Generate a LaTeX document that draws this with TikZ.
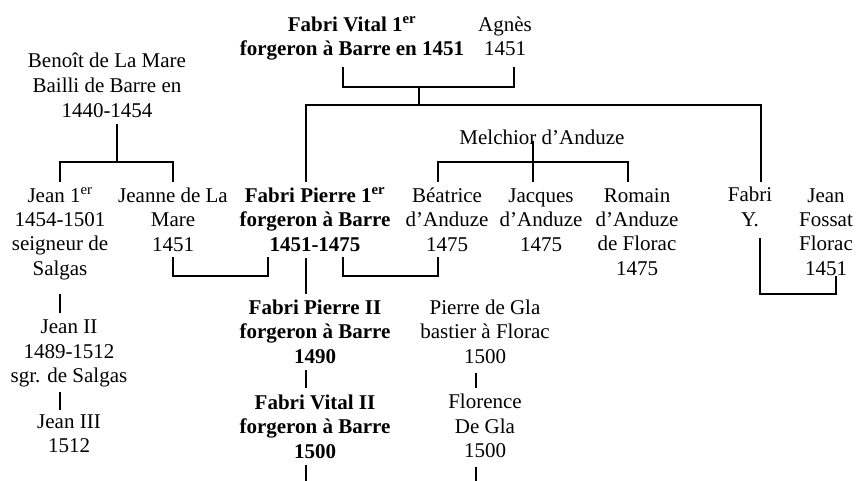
\documentclass[tikz,border=0pt]{standalone}
\usepackage{fontspec}
\setmainfont{Liberation Serif}
\begin{document}
\begin{tikzpicture}[x=1pt,y=-1pt,
  person/.style={font=\fontsize{21}{24.3}\selectfont, inner sep=0pt, align=center, anchor=base},
  boldperson/.style={person, font=\fontsize{21}{24.3}\selectfont\bfseries},
  link/.style={line width=1.5pt, line join=miter}]
\useasboundingbox (0,0) rectangle (856,481);
% nodes (placed at the baseline of their last line)
\node[boldperson] (fv) at (352,55.5) {Fabri Vital 1\textsuperscript{er}\\forgeron à Barre en 1451};
\node[person] (ag) at (505,56) {Agnès\\1451};
\node[person, font=\fontsize{21}{25}\selectfont] (ben) at (107,118) {Benoît de La Mare\\Bailli de Barre en\\1440-1454};
\node[person] (mel) at (542,145) {Melchior d’Anduze};
\node[person] (j1) at (60,275) {Jean 1\textsuperscript{er}\\1454-1501\\seigneur de\\Salgas};
\node[person] (jm) at (173,251) {Jeanne de La\\Mare\\1451};
\node[boldperson] (fp) at (315,251) {Fabri Pierre 1\textsuperscript{er}\\forgeron à Barre\\1451-1475};
\node[person] (bea) at (447,251) {Béatrice\\d’Anduze\\1475};
\node[person] (jac) at (541,251) {Jacques\\d’Anduze\\1475};
\node[person] (rom) at (637,275) {Romain\\d’Anduze\\de Florac\\1475};
\node[person] (fy) at (750,226) {Fabri\\Y.};
\node[person] (jf) at (826,275) {Jean\\Fossat\\Florac\\1451};
\node[person] (j2) at (69,382.5) {Jean II\\1489-1512\\sgr. de Salgas};
\node[person] (j3) at (69,452.5) {Jean III\\1512};
\node[boldperson] (fp2) at (315,363) {Fabri Pierre II\\forgeron à Barre\\1490};
\node[boldperson] (fv2) at (315,458) {Fabri Vital II\\forgeron à Barre\\1500};
\node[person] (pg) at (485,363) {Pierre de Gla\\bastier à Florac\\1500};
\node[person] (fl) at (485,457.5) {Florence\\De Gla\\1500};
% connector points
\coordinate (fvB) at (343,67);
\coordinate (agB) at (514,67);
\coordinate (cpl1) at (419,87);
\coordinate (sib1) at (419,105);
\coordinate (fpT) at (306,182);
\coordinate (fyT) at (761,182);
\coordinate (benB) at (117,124);
\coordinate (sib2) at (117,162);
\coordinate (j1T) at (60,182);
\coordinate (jmT) at (173,182);
\coordinate (melB) at (533,141);
\coordinate (jacT) at (533,182);
\coordinate (sib3) at (533,162);
\coordinate (beaT) at (438,182);
\coordinate (romT) at (628,182);
\coordinate (jmB) at (173,257);
\coordinate (fpBl) at (268,257);
\coordinate (fpBr) at (343,257);
\coordinate (beaB) at (438,257);
\coordinate (fpB) at (306,258);
\coordinate (fp2T) at (306,294);
\coordinate (fyB) at (760,238);
\coordinate (jfB) at (836,276);
\coordinate (cpl5) at (760,294);
\coordinate (j1B) at (60,294);
\coordinate (j2T) at (60,313);
\coordinate (j2B) at (60,392);
\coordinate (j3T) at (60,410);
\coordinate (fp2B) at (306,370);
\coordinate (fv2T) at (306,388);
\coordinate (fv2B) at (306,465);
\coordinate (fv2E) at (306,481);
\coordinate (pgB) at (476,373);
\coordinate (flT) at (476,388);
\coordinate (flB) at (476,467);
\coordinate (flE) at (476,481);
% connectors
\draw[link] (fvB) |- (cpl1) -| (agB);
\draw[link] (cpl1) -- (sib1);
\draw[link] (fpT) |- (sib1) -| (fyT);
\draw[link] (benB) -- (sib2);
\draw[link] (j1T) |- (sib2) -| (jmT);
\draw[link] (melB) -- (jacT);
\draw[link] (beaT) |- (sib3) -| (romT);
\draw[link] (jmB) -- ++(0,19) -| (fpBl);
\draw[link] (fpBr) -- ++(0,19) -| (beaB);
\draw[link] (fpB) -- (fp2T);
\draw[link] (fyB) |- (cpl5) -| (jfB);
\draw[link] (j1B) -- (j2T);
\draw[link] (j2B) -- (j3T);
\draw[link] (fp2B) -- (fv2T);
\draw[link] (fv2B) -- (fv2E);
\draw[link] (pgB) -- (flT);
\draw[link] (flB) -- (flE);
\end{tikzpicture}
\end{document}
